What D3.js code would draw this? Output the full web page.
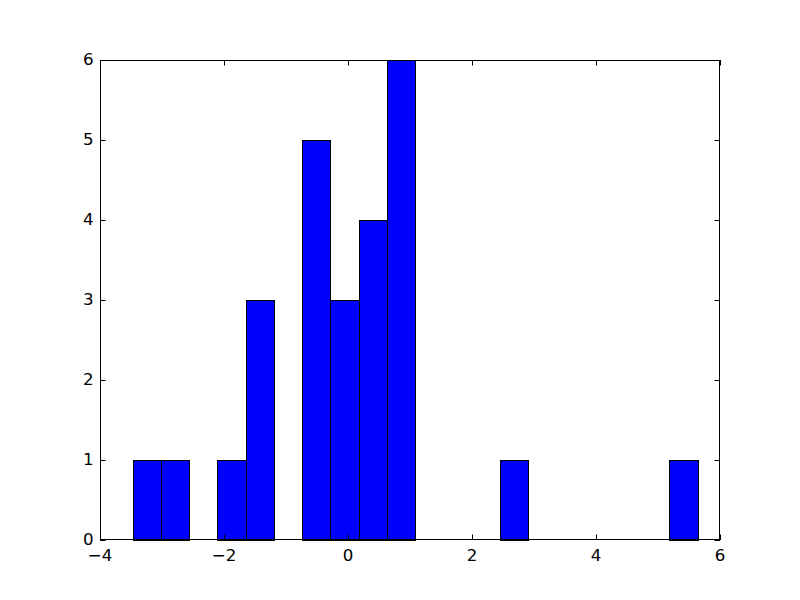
<!DOCTYPE html>
<html>
<head>
<meta charset="utf-8">
<script src="https://cdn.jsdelivr.net/npm/d3@7"></script>
<style>
  html, body { margin: 0; padding: 0; background: #ffffff; }
  svg { display: block; }
  text { font-family: "DejaVu Sans", sans-serif; font-size: 16.67px; fill: #000; }
</style>
</head>
<body>
<svg id="chart" width="800" height="600"></svg>
<script>
// Histogram bin edges (21 edges, 20 bins) and counts
const binEdges = [-3.473, -3.017, -2.562, -2.106, -1.651, -1.195, -0.739, -0.284,
                  0.172, 0.627, 1.083, 1.539, 1.994, 2.450, 2.905, 3.361, 3.817,
                  4.272, 4.728, 5.183, 5.639];
const binCounts = [1, 1, 0, 1, 3, 0, 5, 3, 4, 6, 0, 0, 0, 1, 0, 0, 0, 0, 0, 1];
const xTicks = [-4, -2, 0, 2, 4, 6];
const yTicks = [0, 1, 2, 3, 4, 5, 6];

(function () {
const svg = d3.select("#chart");
const pL = 100, pR = 720, pT = 60, pB = 540;

const x = d3.scaleLinear().domain([-4, 6]).range([pL, pR]);
const y = d3.scaleLinear().domain([0, 6]).range([pB, pT]);
const snap = v => Math.round(v) + 0.5;

const bins = binCounts.map((c, i) => ({ x0: binEdges[i], x1: binEdges[i + 1], count: c }));

svg.append("g").selectAll("rect")
  .data(bins.filter(d => d.count > 0))
  .join("rect")
  .attr("x", d => snap(x(d.x0)))
  .attr("y", d => snap(y(d.count)))
  .attr("width", d => snap(x(d.x1)) - snap(x(d.x0)))
  .attr("height", d => snap(y(0)) - snap(y(d.count)))
  .attr("fill", "#0000ff")
  .attr("stroke", "#000")
  .attr("stroke-width", 1);

const tickLen = 5.56;
const ax = svg.append("g").attr("stroke", "#000").attr("stroke-width", 1).attr("fill", "none");
xTicks.forEach(t => {
  const px = snap(x(t));
  ax.append("line").attr("x1", px).attr("x2", px).attr("y1", pB).attr("y2", pB - tickLen);
  ax.append("line").attr("x1", px).attr("x2", px).attr("y1", pT).attr("y2", pT + tickLen);
});
yTicks.forEach(t => {
  const py = snap(y(t));
  ax.append("line").attr("x1", pL).attr("x2", pL + tickLen).attr("y1", py).attr("y2", py);
  ax.append("line").attr("x1", pR).attr("x2", pR - tickLen).attr("y1", py).attr("y2", py);
});
ax.append("rect").attr("x", pL + 0.5).attr("y", pT + 0.5)
  .attr("width", pR - pL - 1).attr("height", pB - pT - 1);

const fmt = v => (v < 0 ? "\u2212" + Math.abs(v) : String(v));

svg.append("g").selectAll("text")
  .data(xTicks).join("text")
  .attr("x", d => x(d))
  .attr("y", pB + 21)
  .attr("text-anchor", "middle")
  .text(fmt);

svg.append("g").selectAll("text")
  .data(yTicks).join("text")
  .attr("x", pL - 6.5)
  .attr("y", d => y(d) + 5)
  .attr("text-anchor", "end")
  .text(fmt);
})();
</script>
</body>
</html>
